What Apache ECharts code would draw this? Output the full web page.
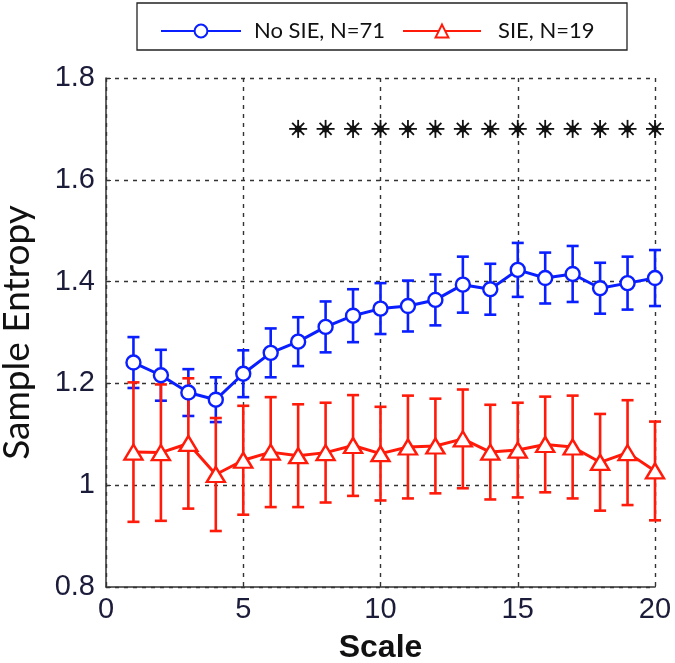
<!DOCTYPE html>
<html><head><meta charset="utf-8">
<script src="https://cdn.jsdelivr.net/npm/echarts@6/dist/echarts.min.js"></script>
<style>html,body{margin:0;padding:0;background:#fff}#c{width:675px;height:663px}</style>
</head><body><div id="c"></div>
<script>
const scales = [1,2,3,4,5,6,7,8,9,10,11,12,13,14,15,16,17,18,19,20];
const noSIE = [1.241,1.216,1.182,1.168,1.219,1.260,1.282,1.311,1.333,1.347,1.352,1.364,1.394,1.385,1.423,1.407,1.415,1.387,1.397,1.407];
const noSIEErr = [0.050,0.050,0.046,0.044,0.046,0.048,0.048,0.050,0.052,0.050,0.050,0.050,0.055,0.050,0.053,0.050,0.055,0.050,0.052,0.055];
const SIE = [1.065,1.064,1.082,1.021,1.049,1.065,1.058,1.064,1.078,1.062,1.075,1.077,1.091,1.065,1.069,1.080,1.075,1.045,1.064,1.028];
const SIEErr = [0.137,0.134,0.128,0.111,0.107,0.108,0.101,0.098,0.099,0.092,0.101,0.093,0.097,0.093,0.093,0.094,0.101,0.095,0.103,0.097];
const starScales = [7,8,9,10,11,12,13,14,15,16,17,18,19,20];
const starLevel = 1.7;
const seriesNames = ['No SIE, N=71', 'SIE, N=19'];

const BLUE = '#0a1fff', RED = '#ff1a0a';
function errData(m, e){ return scales.map((s,i)=>[s, m[i]-e[i], m[i]+e[i]]); }
function errRender(color){
  return function(params, api){
    const x = api.value(0);
    const p1 = api.coord([x, api.value(2)]);
    const p2 = api.coord([x, api.value(1)]);
    const w = 6;
    const st = {stroke: color, lineWidth: 2.6};
    return {type:'group', children:[
      {type:'line', shape:{x1:p1[0],y1:p1[1],x2:p2[0],y2:p2[1]}, style:st},
      {type:'line', shape:{x1:p1[0]-w,y1:p1[1],x2:p1[0]+w,y2:p1[1]}, style:st},
      {type:'line', shape:{x1:p2[0]-w,y1:p2[1],x2:p2[0]+w,y2:p2[1]}, style:st}
    ]};
  };
}
function starRender(params, api){
  const p = api.coord([api.value(0), api.value(1)]);
  const r = 9, d = 6;
  const st = {stroke:'#111', lineWidth:1.8};
  return {type:'group', children:[
    {type:'line', shape:{x1:p[0]-r,y1:p[1],x2:p[0]+r,y2:p[1]}, style:st},
    {type:'line', shape:{x1:p[0],y1:p[1]-r,x2:p[0],y2:p[1]+r}, style:st},
    {type:'line', shape:{x1:p[0]-d,y1:p[1]-d,x2:p[0]+d,y2:p[1]+d}, style:st},
    {type:'line', shape:{x1:p[0]-d,y1:p[1]+d,x2:p[0]+d,y2:p[1]-d}, style:st},
    {type:'circle', shape:{cx:p[0],cy:p[1],r:3.5}, style:{fill:'#111'}}
  ]};
}
const chart = echarts.init(document.getElementById('c'), null, {renderer:'canvas'});
const labelFont = {fontFamily:'Liberation Sans, Arial, sans-serif', fontSize:29, color:'#1b1b3a'};
const legendText = {fontFamily:'Lato, Open Sans, sans-serif', fontSize:22, color:'#111', padding:[0,0,0,8]};
chart.setOption({
  animation:false,
  backgroundColor:'#fff',
  grid:{left:106, right:20, top:78, bottom:76, containLabel:false, outerBoundsMode:'none'},
  graphic:[{type:'rect', shape:{x:137, y:3, width:490, height:47},
    style:{fill:'none', stroke:'#222', lineWidth:1.3}, z:10}],
  legend:[
    {left:155, top:15, itemWidth:80, itemHeight:16, textStyle:legendText, data:[seriesNames[0]]},
    {left:397, top:15, itemWidth:78, itemHeight:16, textStyle:Object.assign({}, legendText, {padding:[0,0,0,12]}), data:[seriesNames[1]]}
  ],
  xAxis:{
    type:'value', min:0, max:20, interval:5,
    name:'Scale', nameLocation:'middle', nameGap:45,
    nameTextStyle:{fontFamily:'Liberation Sans, Arial, sans-serif', fontSize:32, fontWeight:'bold', color:'#111'},
    axisLine:{show:true, onZero:false, lineStyle:{color:'#333', width:1.5}},
    axisTick:{show:true, inside:true, length:5, lineStyle:{color:'#333'}},
    axisLabel:Object.assign({margin:8, formatter:v=>String(v)}, labelFont),
    splitLine:{show:true, lineStyle:{color:'#333', type:[4,5], width:1.4}}
  },
  yAxis:{
    type:'value', min:0.8, max:1.8, interval:0.2,
    name:'Sample Entropy', nameLocation:'middle', nameGap:70, nameRotate:90,
    nameTextStyle:{fontFamily:'Lato, Open Sans, sans-serif', fontSize:37, color:'#111'},
    axisLine:{show:true, onZero:false, lineStyle:{color:'#333', width:1.5}},
    axisTick:{show:true, inside:true, length:5, lineStyle:{color:'#333'}},
    axisLabel:Object.assign({margin:11, formatter:v=>String(+v.toFixed(1))}, labelFont),
    splitLine:{show:true, lineStyle:{color:'#333', type:[4,5], width:1.4}}
  },
  series:[
    {type:'custom', name:'errBlue', renderItem:errRender(BLUE), data:errData(noSIE,noSIEErr), z:2, silent:true},
    {type:'custom', name:'errRed', renderItem:errRender(RED), data:errData(SIE,SIEErr), z:2, silent:true},
    {type:'line', name:seriesNames[0], data:scales.map((s,i)=>[s,noSIE[i]]),
      symbol:'circle', symbolSize:14, showAllSymbol:true,
      lineStyle:{color:BLUE, width:3}, itemStyle:{color:'#fff', borderColor:BLUE, borderWidth:2.4}, z:3},
    {type:'line', name:seriesNames[1], data:scales.map((s,i)=>[s,SIE[i]]),
      symbol:'triangle', symbolSize:[18,15], showAllSymbol:true,
      lineStyle:{color:RED, width:3}, itemStyle:{color:'#fff', borderColor:RED, borderWidth:2.4}, z:3},
    {type:'custom', name:'stars', renderItem:starRender, data:starScales.map(s=>[s,starLevel]), z:4, silent:true}
  ]
});
</script></body></html>
